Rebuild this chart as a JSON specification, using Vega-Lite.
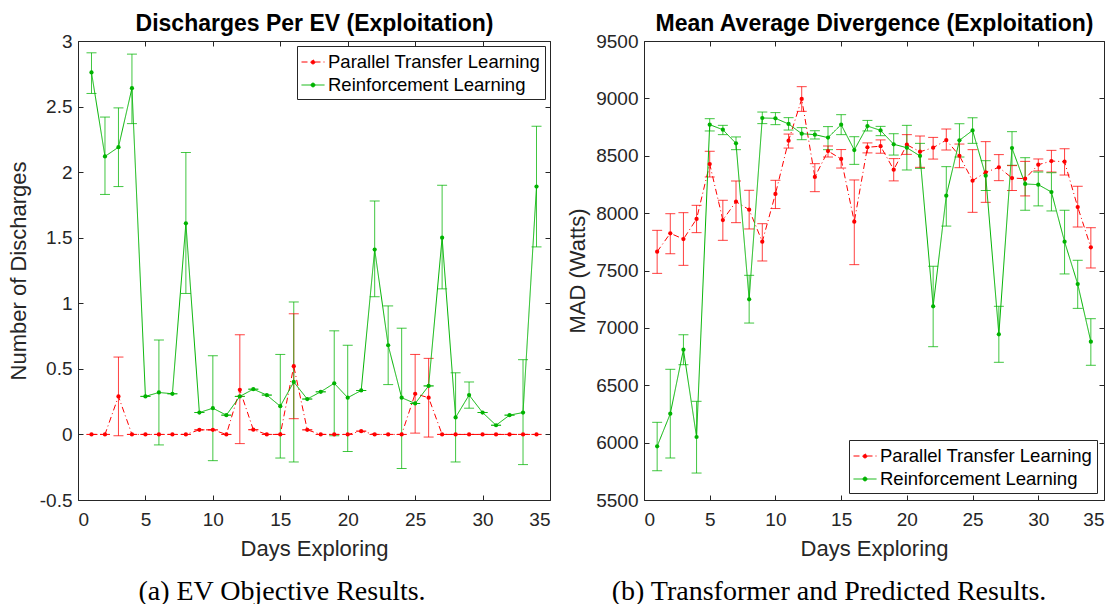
{
  "$schema": "https://vega.github.io/schema/vega-lite/v6.json",
  "background": "white",
  "padding": {"left": 7, "top": 12, "right": 0, "bottom": 0},
  "spacing": 15,
  "config": {
    "font": "Liberation Sans",
    "view": {"stroke": null},
    "axis": {
      "grid": false, "domainColor": "#262626", "tickColor": "#262626", "labelColor": "#262626",
      "titleColor": "#262626", "labelFont": "Liberation Sans", "titleFont": "Liberation Sans",
      "labelFontSize": 19, "titleFontSize": 22, "titleFontWeight": "normal", "tickSize": -5,
      "domainWidth": 1, "tickWidth": 1
    },
    "legend": {
      "orient": "none", "strokeColor": "#262626", "fillColor": "white", "padding": 4,
      "labelFont": "Liberation Sans", "labelFontSize": 18.5, "labelColor": "black", "labelLimit": 400,
      "symbolType": "M-1,0H1M0.17,0A0.17,0.17,0,1,1,-0.17,0A0.17,0.17,0,1,1,0.17,0Z",
      "symbolSize": 529, "symbolStrokeWidth": 1, "rowPadding": 1, "labelOffset": 3
    },
    "title": {"font": "Liberation Serif", "fontSize": 28, "fontWeight": "normal", "orient": "bottom", "color": "black", "anchor": "middle", "offset": 19}
  },
  "resolve": {"scale": {"color": "independent", "strokeDash": "independent"}},
  "datasets": {
    "ev": [
      {"series": "Parallel Transfer Learning", "day": 1, "v": 0, "lo": 0, "hi": 0},
      {"series": "Parallel Transfer Learning", "day": 2, "v": 0, "lo": 0, "hi": 0},
      {"series": "Parallel Transfer Learning", "day": 3, "v": 0.29, "lo": -0.01, "hi": 0.59},
      {"series": "Parallel Transfer Learning", "day": 4, "v": 0, "lo": 0, "hi": 0},
      {"series": "Parallel Transfer Learning", "day": 5, "v": 0, "lo": 0, "hi": 0},
      {"series": "Parallel Transfer Learning", "day": 6, "v": 0, "lo": 0, "hi": 0},
      {"series": "Parallel Transfer Learning", "day": 7, "v": 0, "lo": 0, "hi": 0},
      {"series": "Parallel Transfer Learning", "day": 8, "v": 0, "lo": 0, "hi": 0},
      {"series": "Parallel Transfer Learning", "day": 9, "v": 0.035, "lo": 0.035, "hi": 0.035},
      {"series": "Parallel Transfer Learning", "day": 10, "v": 0.035, "lo": 0.035, "hi": 0.035},
      {"series": "Parallel Transfer Learning", "day": 11, "v": 0, "lo": 0, "hi": 0},
      {"series": "Parallel Transfer Learning", "day": 12, "v": 0.34, "lo": -0.07, "hi": 0.76},
      {"series": "Parallel Transfer Learning", "day": 13, "v": 0.036, "lo": 0.036, "hi": 0.036},
      {"series": "Parallel Transfer Learning", "day": 14, "v": 0, "lo": 0, "hi": 0},
      {"series": "Parallel Transfer Learning", "day": 15, "v": 0, "lo": 0, "hi": 0},
      {"series": "Parallel Transfer Learning", "day": 16, "v": 0.52, "lo": 0.12, "hi": 0.92},
      {"series": "Parallel Transfer Learning", "day": 17, "v": 0.035, "lo": 0.035, "hi": 0.035},
      {"series": "Parallel Transfer Learning", "day": 18, "v": 0, "lo": 0, "hi": 0},
      {"series": "Parallel Transfer Learning", "day": 19, "v": 0, "lo": 0, "hi": 0},
      {"series": "Parallel Transfer Learning", "day": 20, "v": 0, "lo": 0, "hi": 0},
      {"series": "Parallel Transfer Learning", "day": 21, "v": 0.025, "lo": 0.025, "hi": 0.025},
      {"series": "Parallel Transfer Learning", "day": 22, "v": 0, "lo": 0, "hi": 0},
      {"series": "Parallel Transfer Learning", "day": 23, "v": 0, "lo": 0, "hi": 0},
      {"series": "Parallel Transfer Learning", "day": 24, "v": 0, "lo": 0, "hi": 0},
      {"series": "Parallel Transfer Learning", "day": 25, "v": 0.31, "lo": 0.01, "hi": 0.61},
      {"series": "Parallel Transfer Learning", "day": 26, "v": 0.28, "lo": -0.02, "hi": 0.58},
      {"series": "Parallel Transfer Learning", "day": 27, "v": 0, "lo": 0, "hi": 0},
      {"series": "Parallel Transfer Learning", "day": 28, "v": 0, "lo": 0, "hi": 0},
      {"series": "Parallel Transfer Learning", "day": 29, "v": 0, "lo": 0, "hi": 0},
      {"series": "Parallel Transfer Learning", "day": 30, "v": 0, "lo": 0, "hi": 0},
      {"series": "Parallel Transfer Learning", "day": 31, "v": 0, "lo": 0, "hi": 0},
      {"series": "Parallel Transfer Learning", "day": 32, "v": 0, "lo": 0, "hi": 0},
      {"series": "Parallel Transfer Learning", "day": 33, "v": 0, "lo": 0, "hi": 0},
      {"series": "Parallel Transfer Learning", "day": 34, "v": 0, "lo": 0, "hi": 0},
      {"series": "Reinforcement Learning", "day": 1, "v": 2.76, "lo": 2.6, "hi": 2.91},
      {"series": "Reinforcement Learning", "day": 2, "v": 2.12, "lo": 1.83, "hi": 2.42},
      {"series": "Reinforcement Learning", "day": 3, "v": 2.19, "lo": 1.89, "hi": 2.49},
      {"series": "Reinforcement Learning", "day": 4, "v": 2.64, "lo": 2.37, "hi": 2.9},
      {"series": "Reinforcement Learning", "day": 5, "v": 0.29, "lo": 0.29, "hi": 0.29},
      {"series": "Reinforcement Learning", "day": 6, "v": 0.32, "lo": -0.08, "hi": 0.72},
      {"series": "Reinforcement Learning", "day": 7, "v": 0.31, "lo": 0.31, "hi": 0.31},
      {"series": "Reinforcement Learning", "day": 8, "v": 1.61, "lo": 1.075, "hi": 2.15},
      {"series": "Reinforcement Learning", "day": 9, "v": 0.167, "lo": 0.167, "hi": 0.167},
      {"series": "Reinforcement Learning", "day": 10, "v": 0.2, "lo": -0.2, "hi": 0.6},
      {"series": "Reinforcement Learning", "day": 11, "v": 0.147, "lo": 0.147, "hi": 0.147},
      {"series": "Reinforcement Learning", "day": 12, "v": 0.29, "lo": 0.29, "hi": 0.29},
      {"series": "Reinforcement Learning", "day": 13, "v": 0.345, "lo": 0.345, "hi": 0.345},
      {"series": "Reinforcement Learning", "day": 14, "v": 0.3, "lo": 0.3, "hi": 0.3},
      {"series": "Reinforcement Learning", "day": 15, "v": 0.215, "lo": -0.18, "hi": 0.61},
      {"series": "Reinforcement Learning", "day": 16, "v": 0.4, "lo": -0.21, "hi": 1.01},
      {"series": "Reinforcement Learning", "day": 17, "v": 0.27, "lo": 0.27, "hi": 0.27},
      {"series": "Reinforcement Learning", "day": 18, "v": 0.325, "lo": 0.325, "hi": 0.325},
      {"series": "Reinforcement Learning", "day": 19, "v": 0.39, "lo": -0.01, "hi": 0.79},
      {"series": "Reinforcement Learning", "day": 20, "v": 0.28, "lo": -0.13, "hi": 0.68},
      {"series": "Reinforcement Learning", "day": 21, "v": 0.335, "lo": 0.335, "hi": 0.335},
      {"series": "Reinforcement Learning", "day": 22, "v": 1.41, "lo": 1.05, "hi": 1.78},
      {"series": "Reinforcement Learning", "day": 23, "v": 0.68, "lo": 0.38, "hi": 0.98},
      {"series": "Reinforcement Learning", "day": 24, "v": 0.28, "lo": -0.26, "hi": 0.81},
      {"series": "Reinforcement Learning", "day": 25, "v": 0.236, "lo": 0.236, "hi": 0.236},
      {"series": "Reinforcement Learning", "day": 26, "v": 0.37, "lo": 0.37, "hi": 0.37},
      {"series": "Reinforcement Learning", "day": 27, "v": 1.5, "lo": 1.11, "hi": 1.9},
      {"series": "Reinforcement Learning", "day": 28, "v": 0.13, "lo": -0.21, "hi": 0.47},
      {"series": "Reinforcement Learning", "day": 29, "v": 0.3, "lo": 0.2, "hi": 0.4},
      {"series": "Reinforcement Learning", "day": 30, "v": 0.167, "lo": 0.167, "hi": 0.167},
      {"series": "Reinforcement Learning", "day": 31, "v": 0.07, "lo": 0.07, "hi": 0.07},
      {"series": "Reinforcement Learning", "day": 32, "v": 0.147, "lo": 0.147, "hi": 0.147},
      {"series": "Reinforcement Learning", "day": 33, "v": 0.167, "lo": -0.23, "hi": 0.57},
      {"series": "Reinforcement Learning", "day": 34, "v": 1.89, "lo": 1.43, "hi": 2.35}
    ],
    "mad": [
      {"series": "Parallel Transfer Learning", "day": 1, "v": 7664, "lo": 7475, "hi": 7850},
      {"series": "Parallel Transfer Learning", "day": 2, "v": 7824, "lo": 7646, "hi": 7995},
      {"series": "Parallel Transfer Learning", "day": 3, "v": 7774, "lo": 7545, "hi": 8004},
      {"series": "Parallel Transfer Learning", "day": 4, "v": 7949, "lo": 7830, "hi": 8068},
      {"series": "Parallel Transfer Learning", "day": 5, "v": 8428, "lo": 8315, "hi": 8539},
      {"series": "Parallel Transfer Learning", "day": 6, "v": 7940, "lo": 7763, "hi": 8112},
      {"series": "Parallel Transfer Learning", "day": 7, "v": 8100, "lo": 7917, "hi": 8280},
      {"series": "Parallel Transfer Learning", "day": 8, "v": 8030, "lo": 7862, "hi": 8199},
      {"series": "Parallel Transfer Learning", "day": 9, "v": 7751, "lo": 7583, "hi": 7908},
      {"series": "Parallel Transfer Learning", "day": 10, "v": 8167, "lo": 8040, "hi": 8286},
      {"series": "Parallel Transfer Learning", "day": 11, "v": 8631, "lo": 8567, "hi": 8689},
      {"series": "Parallel Transfer Learning", "day": 12, "v": 8995, "lo": 8887, "hi": 9102},
      {"series": "Parallel Transfer Learning", "day": 13, "v": 8315, "lo": 8187, "hi": 8431},
      {"series": "Parallel Transfer Learning", "day": 14, "v": 8541, "lo": 8489, "hi": 8585},
      {"series": "Parallel Transfer Learning", "day": 15, "v": 8472, "lo": 8393, "hi": 8554},
      {"series": "Parallel Transfer Learning", "day": 16, "v": 7925, "lo": 7551, "hi": 8289},
      {"series": "Parallel Transfer Learning", "day": 17, "v": 8574, "lo": 8525, "hi": 8612},
      {"series": "Parallel Transfer Learning", "day": 18, "v": 8583, "lo": 8522, "hi": 8638},
      {"series": "Parallel Transfer Learning", "day": 19, "v": 8379, "lo": 8281, "hi": 8475},
      {"series": "Parallel Transfer Learning", "day": 20, "v": 8596, "lo": 8512, "hi": 8684},
      {"series": "Parallel Transfer Learning", "day": 21, "v": 8535, "lo": 8399, "hi": 8672},
      {"series": "Parallel Transfer Learning", "day": 22, "v": 8570, "lo": 8471, "hi": 8660},
      {"series": "Parallel Transfer Learning", "day": 23, "v": 8637, "lo": 8550, "hi": 8733},
      {"series": "Parallel Transfer Learning", "day": 24, "v": 8500, "lo": 8396, "hi": 8602},
      {"series": "Parallel Transfer Learning", "day": 25, "v": 8283, "lo": 8007, "hi": 8553},
      {"series": "Parallel Transfer Learning", "day": 26, "v": 8356, "lo": 8094, "hi": 8623},
      {"series": "Parallel Transfer Learning", "day": 27, "v": 8399, "lo": 8283, "hi": 8510},
      {"series": "Parallel Transfer Learning", "day": 28, "v": 8306, "lo": 8197, "hi": 8414},
      {"series": "Parallel Transfer Learning", "day": 29, "v": 8300, "lo": 8150, "hi": 8451},
      {"series": "Parallel Transfer Learning", "day": 30, "v": 8422, "lo": 8368, "hi": 8472},
      {"series": "Parallel Transfer Learning", "day": 31, "v": 8454, "lo": 8358, "hi": 8547},
      {"series": "Parallel Transfer Learning", "day": 32, "v": 8448, "lo": 8332, "hi": 8561},
      {"series": "Parallel Transfer Learning", "day": 33, "v": 8053, "lo": 7879, "hi": 8234},
      {"series": "Parallel Transfer Learning", "day": 34, "v": 7702, "lo": 7522, "hi": 7873},
      {"series": "Reinforcement Learning", "day": 1, "v": 5968, "lo": 5755, "hi": 6177},
      {"series": "Reinforcement Learning", "day": 2, "v": 6252, "lo": 5866, "hi": 6639},
      {"series": "Reinforcement Learning", "day": 3, "v": 6810, "lo": 6679, "hi": 6940},
      {"series": "Reinforcement Learning", "day": 4, "v": 6049, "lo": 5735, "hi": 6360},
      {"series": "Reinforcement Learning", "day": 5, "v": 8771, "lo": 8716, "hi": 8823},
      {"series": "Reinforcement Learning", "day": 6, "v": 8727, "lo": 8684, "hi": 8765},
      {"series": "Reinforcement Learning", "day": 7, "v": 8608, "lo": 8553, "hi": 8664},
      {"series": "Reinforcement Learning", "day": 8, "v": 7249, "lo": 7042, "hi": 7458},
      {"series": "Reinforcement Learning", "day": 9, "v": 8829, "lo": 8780, "hi": 8881},
      {"series": "Reinforcement Learning", "day": 10, "v": 8826, "lo": 8771, "hi": 8876},
      {"series": "Reinforcement Learning", "day": 11, "v": 8777, "lo": 8724, "hi": 8832},
      {"series": "Reinforcement Learning", "day": 12, "v": 8692, "lo": 8640, "hi": 8745},
      {"series": "Reinforcement Learning", "day": 13, "v": 8684, "lo": 8646, "hi": 8718},
      {"series": "Reinforcement Learning", "day": 14, "v": 8658, "lo": 8553, "hi": 8754},
      {"series": "Reinforcement Learning", "day": 15, "v": 8771, "lo": 8684, "hi": 8858},
      {"series": "Reinforcement Learning", "day": 16, "v": 8550, "lo": 8425, "hi": 8666},
      {"series": "Reinforcement Learning", "day": 17, "v": 8759, "lo": 8716, "hi": 8808},
      {"series": "Reinforcement Learning", "day": 18, "v": 8721, "lo": 8675, "hi": 8756},
      {"series": "Reinforcement Learning", "day": 19, "v": 8600, "lo": 8506, "hi": 8692},
      {"series": "Reinforcement Learning", "day": 20, "v": 8570, "lo": 8376, "hi": 8765},
      {"series": "Reinforcement Learning", "day": 21, "v": 8498, "lo": 8390, "hi": 8608},
      {"series": "Reinforcement Learning", "day": 22, "v": 7188, "lo": 6836, "hi": 7537},
      {"series": "Reinforcement Learning", "day": 23, "v": 8152, "lo": 7887, "hi": 8405},
      {"series": "Reinforcement Learning", "day": 24, "v": 8634, "lo": 8489, "hi": 8779},
      {"series": "Reinforcement Learning", "day": 25, "v": 8721, "lo": 8608, "hi": 8831},
      {"series": "Reinforcement Learning", "day": 26, "v": 8326, "lo": 8197, "hi": 8457},
      {"series": "Reinforcement Learning", "day": 27, "v": 6944, "lo": 6700, "hi": 7188},
      {"series": "Reinforcement Learning", "day": 28, "v": 8567, "lo": 8417, "hi": 8710},
      {"series": "Reinforcement Learning", "day": 29, "v": 8254, "lo": 8025, "hi": 8483},
      {"series": "Reinforcement Learning", "day": 30, "v": 8248, "lo": 8063, "hi": 8358},
      {"series": "Reinforcement Learning", "day": 31, "v": 8184, "lo": 8019, "hi": 8352},
      {"series": "Reinforcement Learning", "day": 32, "v": 7751, "lo": 7470, "hi": 8025},
      {"series": "Reinforcement Learning", "day": 33, "v": 7382, "lo": 7170, "hi": 7589},
      {"series": "Reinforcement Learning", "day": 34, "v": 6880, "lo": 6674, "hi": 7080}
    ]
  },
  "hconcat": [
    {
      "width": 472, "height": 459,
      "title": {"text": "(a) EV Objective Results.", "dx": -32},
      "data": {"name": "ev"},
      "resolve": {"axis": {"x": "independent", "y": "independent"}},
      "layer": [
        {
          "mark": {"type": "rule", "strokeWidth": 1, "opacity": 0.75},
          "encoding": {
            "x": {"field": "day", "type": "quantitative", "scale": {"domain": [0, 35], "nice": false},
              "axis": {"orient": "top", "labels": false, "values": [0, 5, 10, 15, 20, 25, 30, 35], "title": "Discharges Per EV (Exploitation)", "titleFontWeight": "bold", "titleFontSize": 23, "titleColor": "black", "titlePadding": 5}},
            "y": {"field": "lo", "type": "quantitative", "scale": {"domain": [-0.5, 3], "nice": false},
              "axis": {"orient": "right", "labels": false, "title": null, "values": [-0.5, 0, 0.5, 1, 1.5, 2, 2.5, 3]}},
            "y2": {"field": "hi"},
            "color": {"field": "series", "type": "nominal", "scale": {"domain": ["Parallel Transfer Learning", "Reinforcement Learning"], "range": ["#ff0000", "#00b300"]}}
          }
        },
        {
          "mark": {"type": "tick", "orient": "horizontal", "size": 10, "thickness": 1, "opacity": 0.75},
          "encoding": {
            "x": {"field": "day", "type": "quantitative", "axis": null},
            "y": {"field": "lo", "type": "quantitative", "axis": null},
            "color": {"field": "series", "type": "nominal"}
          }
        },
        {
          "mark": {"type": "tick", "orient": "horizontal", "size": 10, "thickness": 1, "opacity": 0.75},
          "encoding": {
            "x": {"field": "day", "type": "quantitative", "axis": null},
            "y": {"field": "hi", "type": "quantitative", "axis": null},
            "color": {"field": "series", "type": "nominal"}
          }
        },
        {
          "mark": {"type": "line", "strokeWidth": 1, "point": {"filled": true, "size": 18}},
          "encoding": {
            "x": {"field": "day", "type": "quantitative",
              "axis": {"title": "Days Exploring", "values": [0, 5, 10, 15, 20, 25, 30, 35], "labelPadding": 15, "titlePadding": 9}},
            "y": {"field": "v", "type": "quantitative",
              "axis": {"title": "Number of Discharges", "values": [-0.5, 0, 0.5, 1, 1.5, 2, 2.5, 3], "labelPadding": 11, "titlePadding": 9,
                "labelExpr": "datum.value < 0 ? '-' + format(-datum.value, '~g') : format(datum.value, '~g')"}},
            "color": {"field": "series", "type": "nominal", "legend": {"title": null, "orient": "none", "legendX": 219, "legendY": 5,
              "encode": {"symbols": {"update": {"fill": {"signal": "datum.value === 'Parallel Transfer Learning' ? '#ff0000' : '#00b300'"}, "fillOpacity": {"value": 1}}}}}},
            "strokeDash": {"field": "series", "type": "nominal", "scale": {"domain": ["Parallel Transfer Learning", "Reinforcement Learning"], "range": [[6, 3, 1, 3], [1, 0]]}, "legend": {"title": null, "orient": "none", "legendX": 219, "legendY": 5,
              "encode": {"symbols": {"update": {"fill": {"signal": "datum.value === 'Parallel Transfer Learning' ? '#ff0000' : '#00b300'"}, "fillOpacity": {"value": 1}}}}}}
          }
        }
      ]
    },
    {
      "width": 460, "height": 459,
      "title": {"text": "(b) Transformer and Predicted Results.", "dx": -45},
      "data": {"name": "mad"},
      "resolve": {"axis": {"x": "independent", "y": "independent"}},
      "layer": [
        {
          "mark": {"type": "rule", "strokeWidth": 1, "opacity": 0.75},
          "encoding": {
            "x": {"field": "day", "type": "quantitative", "scale": {"domain": [0, 35], "nice": false},
              "axis": {"orient": "top", "labels": false, "values": [0, 5, 10, 15, 20, 25, 30, 35], "title": "Mean Average Divergence (Exploitation)", "titleFontWeight": "bold", "titleFontSize": 23, "titleColor": "black", "titlePadding": 5}},
            "y": {"field": "lo", "type": "quantitative", "scale": {"domain": [5500, 9500], "nice": false},
              "axis": {"orient": "right", "labels": false, "title": null, "values": [5500, 6000, 6500, 7000, 7500, 8000, 8500, 9000, 9500]}},
            "y2": {"field": "hi"},
            "color": {"field": "series", "type": "nominal", "scale": {"domain": ["Parallel Transfer Learning", "Reinforcement Learning"], "range": ["#ff0000", "#00b300"]}}
          }
        },
        {
          "mark": {"type": "tick", "orient": "horizontal", "size": 10, "thickness": 1, "opacity": 0.75},
          "encoding": {
            "x": {"field": "day", "type": "quantitative", "axis": null},
            "y": {"field": "lo", "type": "quantitative", "axis": null},
            "color": {"field": "series", "type": "nominal"}
          }
        },
        {
          "mark": {"type": "tick", "orient": "horizontal", "size": 10, "thickness": 1, "opacity": 0.75},
          "encoding": {
            "x": {"field": "day", "type": "quantitative", "axis": null},
            "y": {"field": "hi", "type": "quantitative", "axis": null},
            "color": {"field": "series", "type": "nominal"}
          }
        },
        {
          "mark": {"type": "line", "strokeWidth": 1, "point": {"filled": true, "size": 18}},
          "encoding": {
            "x": {"field": "day", "type": "quantitative",
              "axis": {"title": "Days Exploring", "values": [0, 5, 10, 15, 20, 25, 30, 35], "labelPadding": 15, "titlePadding": 9}},
            "y": {"field": "v", "type": "quantitative",
              "axis": {"title": "MAD (Watts)", "values": [5500, 6000, 6500, 7000, 7500, 8000, 8500, 9000, 9500], "format": "d", "labelPadding": 11, "titlePadding": 6}},
            "color": {"field": "series", "type": "nominal", "legend": {"title": null, "orient": "none", "legendX": 205, "legendY": 399,
              "encode": {"symbols": {"update": {"fill": {"signal": "datum.value === 'Parallel Transfer Learning' ? '#ff0000' : '#00b300'"}, "fillOpacity": {"value": 1}}}}}},
            "strokeDash": {"field": "series", "type": "nominal", "scale": {"domain": ["Parallel Transfer Learning", "Reinforcement Learning"], "range": [[6, 3, 1, 3], [1, 0]]}, "legend": {"title": null, "orient": "none", "legendX": 205, "legendY": 399,
              "encode": {"symbols": {"update": {"fill": {"signal": "datum.value === 'Parallel Transfer Learning' ? '#ff0000' : '#00b300'"}, "fillOpacity": {"value": 1}}}}}}
          }
        }
      ]
    }
  ]
}
